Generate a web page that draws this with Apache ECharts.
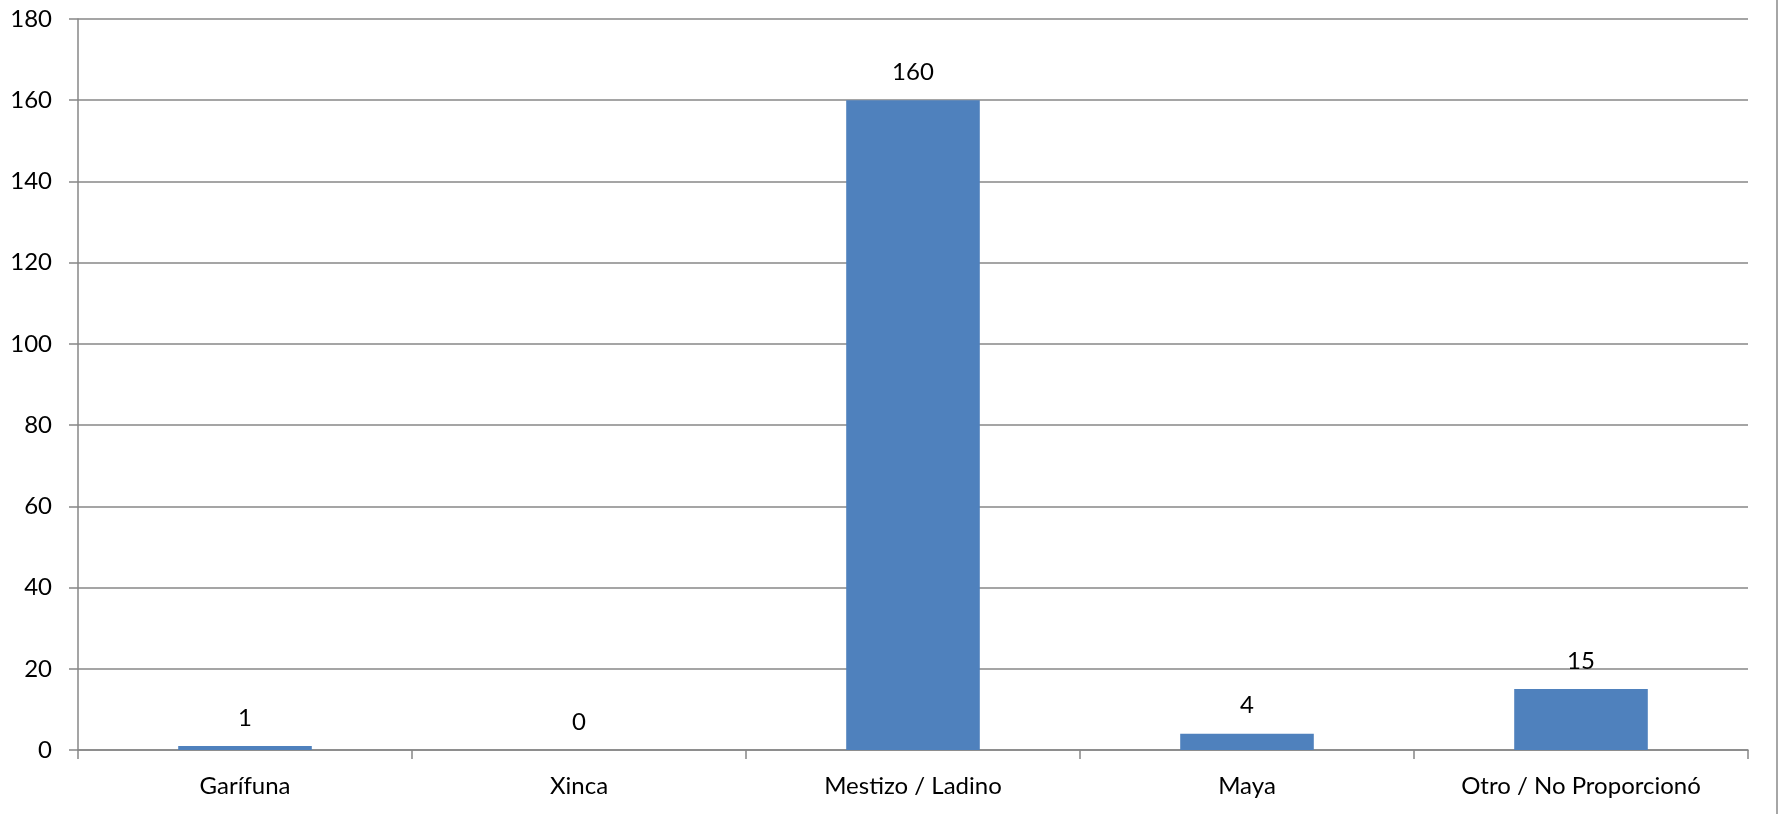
<!DOCTYPE html>
<html>
<head>
<meta charset="utf-8">
<script src="https://cdn.jsdelivr.net/npm/echarts@6/dist/echarts.min.js"></script>
<style>
html,body{margin:0;padding:0;background:#fff;}
#chart{width:1781px;height:814px;}
</style>
</head>
<body>
<div id="chart"></div>
<script>
const categories = ['Garífuna', 'Xinca', 'Mestizo / Ladino', 'Maya', 'Otro / No Proporcionó'];
const values = [1, 0, 160, 4, 15];
const yMin = 0, yMax = 180, yStep = 20;

const FONT = 'Lato';
const chart = echarts.init(document.getElementById('chart'));
chart.setOption({
  animation: false,
  backgroundColor: '#ffffff',
  grid: { left: 78, right: 33, top: 19, bottom: 64, containLabel: false },
  xAxis: {
    type: 'category',
    data: categories,
    boundaryGap: true,
    axisLine: { show: true, lineStyle: { color: '#878787', width: 1.5 } },
    axisTick: { show: true, length: 9, alignWithLabel: false, lineStyle: { color: '#878787', width: 1.5 } },
    axisLabel: { color: '#000', fontFamily: FONT, fontSize: 24, margin: 24 },
    splitLine: { show: false }
  },
  yAxis: {
    type: 'value',
    min: yMin, max: yMax, interval: yStep,
    axisLine: { show: true, lineStyle: { color: '#878787', width: 1.5 } },
    axisTick: { show: true, length: 9, lineStyle: { color: '#878787', width: 1.5 } },
    axisLabel: { color: '#000', fontFamily: FONT, fontSize: 24, margin: 26 },
    splitLine: { show: true, lineStyle: { color: '#878787', width: 1.5 } }
  },
  series: [{
    type: 'bar',
    data: values,
    barWidth: '40%',
    itemStyle: { color: '#4f81bd' },
    label: { show: true, position: 'top', distance: 16, color: '#000', fontFamily: FONT, fontSize: 24 }
  }],
  graphic: [{
    type: 'line',
    shape: { x1: 1777, y1: 0, x2: 1777, y2: 814 },
    style: { stroke: '#a6a6a6', lineWidth: 2 }
  }]
});
</script>
</body>
</html>
